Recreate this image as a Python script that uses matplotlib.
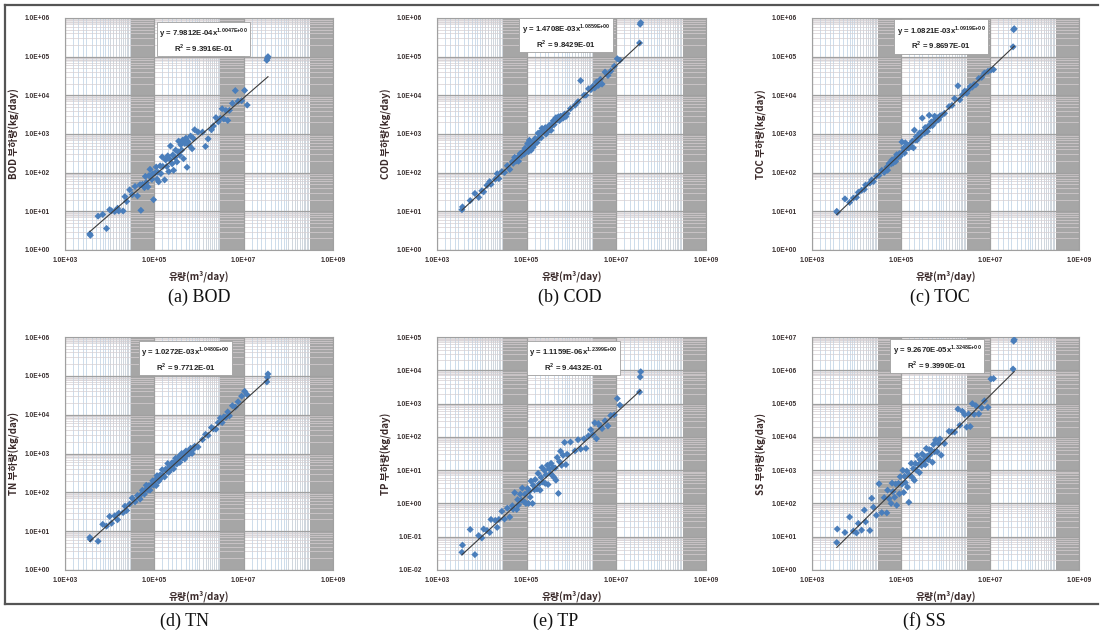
import numpy as np
import matplotlib
matplotlib.use('Agg')
import matplotlib.pyplot as plt
from matplotlib.ticker import FixedLocator, FuncFormatter, NullFormatter
from matplotlib.lines import Line2D

plt.rcParams['font.family'] = ['Liberation Sans', 'Noto Sans CJK KR', 'DejaVu Sans']

# ---------------- data ----------------
flow = [3.6e3, 3.7e3, 5.5e3, 7.0e3, 8.5e3, 1.0e4, 1.1e4, 1.3e4, 1.5e4, 1.6e4,
        2.0e4, 2.2e4, 2.4e4, 2.8e4, 3.2e4, 3.7e4, 4.2e4, 4.8e4, 5.0e4, 5.4e4,
        6.0e4, 6.3e4, 6.6e4, 7.2e4, 7.6e4, 8.0e4, 8.8e4, 9.2e4, 9.6e4, 1.05e5,
        1.1e5, 1.15e5, 1.2e5, 1.25e5, 1.35e5, 1.4e5, 1.5e5, 1.55e5, 1.7e5, 1.8e5,
        1.9e5, 2.0e5, 2.1e5, 2.2e5, 2.3e5, 2.5e5, 2.6e5, 2.7e5, 2.9e5, 3.0e5,
        3.2e5, 3.4e5, 3.5e5, 3.7e5, 3.9e5, 4.1e5, 4.3e5, 4.5e5, 4.8e5, 5.1e5,
        5.4e5, 5.7e5, 6.0e5, 6.5e5, 7.0e5, 7.5e5, 8.0e5, 9.5e5, 1.2e6, 1.4e6,
        1.6e6, 1.9e6, 2.1e6, 2.4e6, 2.7e6, 3.0e6, 3.3e6, 3.6e6, 4.0e6, 4.4e6,
        4.8e6, 5.6e6, 6.5e6, 7.5e6, 9.0e6, 1.05e7, 1.2e7, 3.3e7, 3.4e7, 3.5e7]

bod_load = [2.6, 2.4, 7.5, 8.3, 3.6, 11, 10.3, 9.9, 12, 10.2,
            10.2, 24, 18, 36, 27, 44, 25, 49, 10.6, 50,
            41, 80, 56, 43, 84, 122, 67, 94, 20, 98,
            140, 68, 102, 58, 150, 95, 255, 145, 65, 214,
            145, 272, 107, 224, 490, 170, 287, 115, 246, 382,
            190, 347, 655, 283, 530, 383, 694, 230, 571, 780,
            138, 630, 510, 884, 416, 765, 1290, 1130, 1120, 476,
            748, 1290, 1610, 2650, 2070, 2550, 4490, 2450, 4080, 2240,
            4080, 6190, 13260, 7010, 7270, 13400, 5600, 8.1e4, 9.0e4, 1.0e5]

cod_load = [11, 13, 19, 29, 23, 34, 32, 47, 59, 50,
            68, 94, 70, 107, 101, 151, 121, 192, 174, 248,
            201, 248, 198, 313, 274, 336, 306, 428, 374, 563,
            350, 690, 458, 378, 604, 457, 553, 767, 600, 1050,
            796, 1090, 800, 1400, 1180, 1075, 1460, 994, 1390, 1180,
            1686, 1503, 1240, 1810, 2180, 1745, 2225, 2644, 2288, 2790,
            2226, 2884, 2772, 2569, 3276, 2820, 3400, 4541, 5550, 6888,
            2.4e4, 10035, 10115, 14750, 13959, 17160, 15590, 21900, 18156, 26040,
            19510, 39970, 32526, 42225, 56630, 88300, 81000, 2.26e5, 6.9e5, 7.6e5]

toc_load = [10, 9.4, 21, 17, 22, 23, 31, 35, 37, 48,
            54, 65, 59, 81, 85, 115, 102, 139, 116, 174,
            169, 215, 177, 228, 195, 292, 256, 311, 267, 623,
            344, 434, 322, 594, 432, 516, 436, 527, 473, 651,
            439, 1260, 700, 848, 696, 890, 1060, 875, 1094, 2580,
            1107, 1065, 1466, 1360, 1167, 1596, 3054, 1602, 2062, 1652,
            2150, 2897, 2080, 2631, 2331, 2930, 2992, 3430, 5120, 5502,
            8260, 17600, 7673, 10330, 12890, 11313, 13926, 16870, 16340, 19096,
            18880, 27290, 29250, 37620, 41760, 45170, 46460, 1.8e5, 5.0e5, 5.3e5]

tn_load = [6.9, 6.2, 5.5, 15, 13.5, 24, 16, 25, 19.7, 29,
           30, 44, 34, 50, 71, 57, 83, 67, 87, 113,
           90, 116, 152, 115, 149, 114, 158, 198, 155, 208,
           149, 269, 217, 192, 281, 229, 382, 282, 249, 395,
           350, 552, 328, 448, 383, 578, 484, 402, 620, 753,
           538, 668, 818, 591, 806, 1002, 768, 936, 726, 1157,
           923, 1137, 969, 1366, 1003, 1296, 1536, 1474, 2280, 3111,
           2923, 4674, 4326, 4223, 6207, 8190, 6267, 8777, 8520, 11770,
           9288, 17010, 15660, 21450, 29970, 39980, 32544, 69800, 91900, 111500]

tp_load = [0.034, 0.056, 0.165, 0.029, 0.108, 0.092, 0.17, 0.154, 0.134, 0.33,
           0.31, 0.19, 0.33, 0.58, 0.34, 0.72, 0.39, 0.85, 0.67, 2.1,
           0.66, 1.3, 0.9, 1.9, 1.25, 2.9, 1.13, 1.9, 1.0, 2.8,
           1.0, 2.3, 1.55, 4.7, 1.0, 3.5, 2.6, 5.2, 2.7, 8.0,
           3.9, 2.5, 6.1, 12, 4.4, 9.8, 4.0, 7.2, 14, 3.7,
           11, 7.9, 16, 7.0, 12, 6.0, 11.6, 5.0, 24, 2.0,
           18, 37, 14, 28, 68, 14.7, 30, 70, 38, 82,
           43, 87, 45, 107, 164, 117, 264, 88, 250, 207,
           178, 304, 213, 437, 457, 1415, 900, 2220, 6300, 9060]

ss_load = [6.7, 17, 13.4, 39, 14.8, 13, 25, 15.8, 63, 28,
           15.4, 143, 77, 44, 390, 53, 149, 52, 250, 139,
           100, 406, 227, 153, 383, 88, 400, 194, 634, 379,
           986, 214, 654, 425, 942, 309, 108, 707, 1598, 603,
           1110, 495, 1584, 1012, 2740, 1466, 842, 2068, 1380, 3062,
           1853, 2612, 1463, 4500, 2655, 2063, 4122, 2916, 3972, 1721,
           5944, 3591, 8117, 3564, 6292, 8618, 2815, 6308, 14683, 14260,
           13925, 68500, 22260, 58600, 46575, 19635, 48708, 20412, 99560, 47520,
           86736, 49056, 74590, 120750, 76950, 548100, 564000, 1.09e6, 7.5e6, 8.3e6]

names = ['BOD', 'COD', 'TOC', 'TN', 'TP', 'SS']
letters = ['a', 'b', 'c', 'd', 'e', 'f']
loads = [bod_load, cod_load, toc_load, tn_load, tp_load, ss_load]
fit_coef = [7.9812e-04, 1.4708e-03, 1.0821e-03, 1.0272e-03, 1.1159e-06, 9.2670e-05]
fit_exp = [1.0047, 1.0859, 1.0919, 1.0480, 1.2399, 1.3248]
fit_r2 = [9.3916e-01, 9.8429e-01, 9.8697e-01, 9.7712e-01, 9.4432e-01, 9.3990e-01]
y_lims = [(1e0, 1e6), (1e0, 1e6), (1e0, 1e6), (1e0, 1e6), (1e-2, 1e5), (1e0, 1e7)]
x_lim = (1e3, 1e9)

# ---------------- layout ----------------
W, H = 1100, 638
fig = plt.figure(figsize=(W / 100, H / 100), dpi=100)
fig.patch.set_facecolor('white')

col_px = [(65, 333), (437, 706), (812, 1079)]
row_px = [(18, 250), (337, 570)]
box_pos = [(0.517, 0.905), (0.48, 0.922), (0.483, 0.916),
           (0.45, 0.905), (0.507, 0.906), (0.468, 0.914)]
cap_px = [(199, 297), (570, 297), (940, 297), (185, 621), (556, 621), (924, 621)]

blue = '#4a7ebb'
tick_color = '#3a3030'


def sci(v, pos=None):
    return '%.1E' % v


def mt(s):
    return s.replace('+', '{+}').replace('-', '{-}')


for i in range(6):
    r, c = divmod(i, 3)
    l, rr = col_px[c]
    t, b = row_px[r]
    ax = fig.add_axes([l / W, 1 - b / H, (rr - l) / W, (b - t) / H])
    ax.set_xscale('log')
    ax.set_yscale('log')
    ax.set_xlim(*x_lim)
    ax.set_ylim(*y_lims[i])
    ax.set_facecolor('white')

    # ---- gridwork (Excel log grid look) ----
    xmaj = [1e3, 1e5, 1e7, 1e9]
    lo, hi = np.log10(y_lims[i])
    ymaj = [10.0 ** k for k in range(int(lo), int(hi) + 1)]
    for k in range(int(lo), int(hi)):
        ax.axhspan(10.0 ** k * 7.2, 10.0 ** (k + 1), color='#ebe9ea', lw=0, zorder=0.3)
        for j in [2, 3, 4, 5, 6, 7, 8, 9]:
            ax.axhline(10.0 ** k * j, color='#d6cfd2', lw=0.5, zorder=0.6)
    for B in [1e3, 1e5, 1e7]:
        for j in [1.5, 2, 2.5, 3, 4, 5, 6, 7, 8, 9]:
            ax.axvline(B * j, color='#b9cfe3', lw=0.5, zorder=0.5)
        for j in range(10, 30, 2):
            ax.axvline(B * j, color='#bcc6d0', lw=0.5, zorder=0.5)
        ax.axvspan(B * 30, B * 100, color='#a6a6a6', lw=0, zorder=0.55)
    for yv in ymaj:
        ax.axhline(yv, color='#a0a0a0', lw=0.9, zorder=0.7)
    for xv in xmaj:
        ax.axvline(xv, color='#a0a0a0', lw=0.9, zorder=0.7)

    ax.xaxis.set_major_locator(FixedLocator(xmaj))
    ax.xaxis.set_minor_locator(FixedLocator([]))
    ax.yaxis.set_major_locator(FixedLocator(ymaj))
    ax.yaxis.set_minor_locator(FixedLocator([]))
    ax.xaxis.set_major_formatter(FuncFormatter(sci))
    ax.yaxis.set_major_formatter(FuncFormatter(sci))
    ax.xaxis.set_minor_formatter(NullFormatter())
    ax.yaxis.set_minor_formatter(NullFormatter())
    ax.tick_params(axis='both', which='both', length=0, labelsize=4.8,
                   labelcolor=tick_color)
    ax.tick_params(axis='y', pad=11)
    ax.tick_params(axis='x', pad=5)
    for lab in ax.get_xticklabels() + ax.get_yticklabels():
        lab.set_fontweight('bold')
    for s in ax.spines.values():
        s.set_color('#a0a0a0')
        s.set_linewidth(0.8)

    # scatter
    ax.scatter(flow, loads[i], marker='D', s=13, color=blue, edgecolors='none',
               zorder=3)
    # power trendline
    xs = np.geomspace(min(flow), max(flow), 50)
    ax.plot(xs, fit_coef[i] * xs ** fit_exp[i], color='#3c3c3c', lw=0.8, zorder=4)

    # equation box
    a_txt = '%.4E' % fit_coef[i]
    b_txt = '%.4E' % fit_exp[i]
    eq = (r'y = %sx$^{\mathregular{%s}}$' % (a_txt, mt(b_txt)) + '\n'
          + r'R$^{\mathregular{2}}$ = %.4E' % fit_r2[i])
    ax.text(box_pos[i][0], box_pos[i][1], eq, transform=ax.transAxes,
            ha='center', va='center', fontsize=5.6, fontweight='bold',
            color='#222222', linespacing=1.15, zorder=5,
            bbox=dict(boxstyle='square,pad=0.3', fc='white', ec='#a0a0a0', lw=0.6))

    ax.set_ylabel('%s 부하량(kg/day)' % names[i], fontsize=7, fontweight='bold',
                  color='#3a2a2a', family=['Noto Sans CJK KR', 'DejaVu Sans'])
    ax.yaxis.set_label_coords(-0.167, 0.5)
    ax.set_xlabel('유량(m³/day)', fontsize=7, fontweight='bold', color='#3a2a2a',
                  family=['Noto Sans CJK KR', 'DejaVu Sans'])
    ax.xaxis.set_label_coords(0.5, -0.09)

    cx, cy = cap_px[i]
    fig.text(cx / W, 1 - cy / H, '(%s) %s' % (letters[i], names[i]),
             ha='center', va='center', fontsize=13, family='Liberation Serif',
             color='#111111')


# frame lines
def hline(y, x0, x1, lw=1.6):
    fig.add_artist(Line2D([x0 / W, x1 / W], [1 - y / H, 1 - y / H],
                          transform=fig.transFigure, color='#555555', lw=lw))


def vline(x, y0, y1, lw=1.6):
    fig.add_artist(Line2D([x / W, x / W], [1 - y0 / H, 1 - y1 / H],
                          transform=fig.transFigure, color='#555555', lw=lw))


hline(5, 5, 1098)
hline(604, 5, 1098)
vline(5, 5, 604)

fig.savefig('out.png', dpi=100, facecolor='white')
